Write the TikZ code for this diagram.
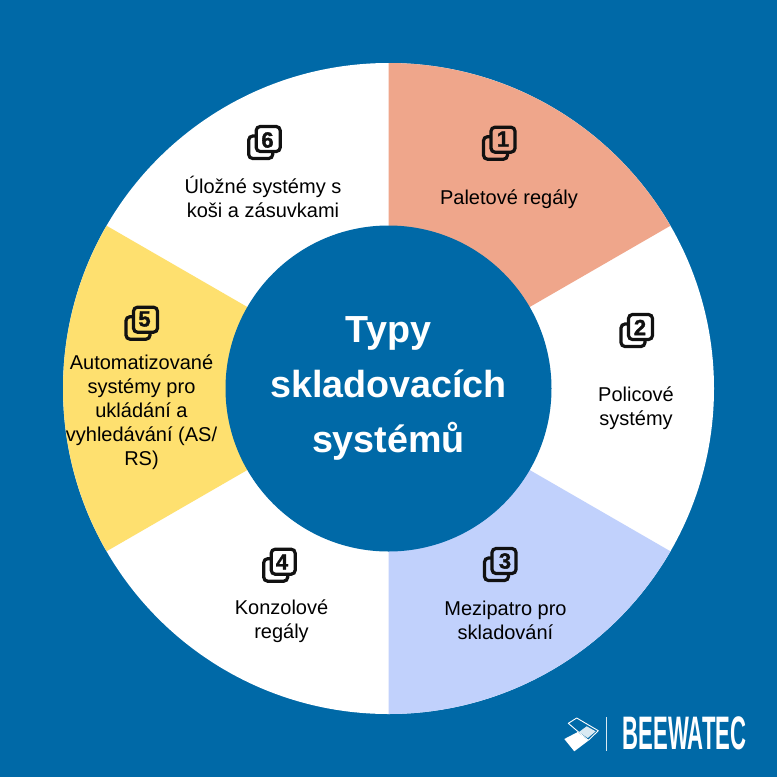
\documentclass[tikz,border=0pt]{standalone}
\usepackage{fontspec}
\usepackage{graphicx}
\setmainfont{Liberation Sans}
\definecolor{bgblue}{HTML}{0069A7}
\definecolor{salmon}{HTML}{EFA68B}
\definecolor{periw}{HTML}{C1D1FC}
\definecolor{sun}{HTML}{FEE06F}
\definecolor{ink}{HTML}{111111}
\newcommand{\sect}[3]{\fill[#3] (388.5,388.5) -- ++(#1:325.5) arc[start angle=#1,end angle=#2,radius=325.5] -- cycle;}
\newcommand{\stackicon}[3]{%
  \begin{scope}[shift={(#1,#2)}]
    \draw[iconline] (-5.5,-7) rectangle (18.5,15.5);
    \draw[iconline,fill=#3] (2,-16.5) rectangle (26,8.5);
  \end{scope}}
\tikzset{
  iconline/.style={draw=ink,line width=3.2pt,rounded corners=4pt},
  digit/.style={font=\fontsize{22}{22}\selectfont\bfseries\addfontfeature{FakeBold=1.5},text=ink,inner sep=0pt},
  label/.style={font=\fontsize{20}{24}\selectfont,text=black,align=center,inner sep=0pt},
  title/.style={font=\fontsize{37.7}{55}\selectfont\bfseries,text=white,align=center,inner sep=0pt},
  brand/.style={font=\fontsize{47}{47}\selectfont\bfseries,text=white,inner sep=0pt}
}
\begin{document}
\begin{tikzpicture}[x=1pt,y=-1pt]
\useasboundingbox (0,0) rectangle (777,777);
\fill[bgblue] (0,0) rectangle (777,777);
\fill[white] (388.5,388.5) circle[radius=325.5];
\sect{-90}{-30}{salmon}
\sect{30}{90}{periw}
\sect{150}{210}{sun}
\fill[bgblue] (388.5,388.5) circle[radius=163];
\node[title] (center) at (388.5,388) {Typy\\skladovacích\\systémů};

\stackicon{489}{143.7}{salmon}
\node[digit] (n1) at (503,139) {1};
\node[label] (t1) at (509,199) {Paletové regály};

\stackicon{626.5}{331}{white}
\node[digit] (n2) at (640,327.5) {2};
\node[label] (t2) at (636,408.5) {Policové\\systémy};

\stackicon{490}{565}{periw}
\node[digit] (n3) at (505,561) {3};
\node[label] (t3) at (505.5,620) {Mezipatro pro\\skladování};

\stackicon{269.2}{565.7}{white}
\node[digit] (n4) at (282,562) {4};
\node[label] (t4) at (281.5,621) {Konzolové\\regály};

\stackicon{131.5}{323.7}{sun}
\node[digit] (n5) at (144.5,319) {5};
\node[label] (t5) at (141.5,412.5) {Automatizované\\systémy pro\\ukládání a\\vyhledávání (AS/\\RS)};

\stackicon{254.2}{143}{white}
\node[digit] (n6) at (267.5,140) {6};
\node[label] (t6) at (263,197) {Úložné systémy s\\koši a zásuvkami};

% logo
\draw[white,line width=.9pt,line join=round] (568.3,723.3) -- (576.7,718) -- (598.3,730.7) -- (588.3,740.3) -- cycle;
\fill[white!85!bgblue] (579,732) -- (586.7,726.3) -- (595.7,731.3) -- (587.7,738) -- cycle;
\fill[white] (564.3,739) -- (577.7,732) -- (588.3,740.7) -- (574.3,751.3) -- cycle;
\draw[white!85!bgblue,line width=.9pt] (606.7,717.3) -- (606.7,750.7);
\node[brand,anchor=west] (logo) at (622.5,733.5) {\scalebox{.47}[1]{BEEWATEC}};
\end{tikzpicture}
\end{document}
